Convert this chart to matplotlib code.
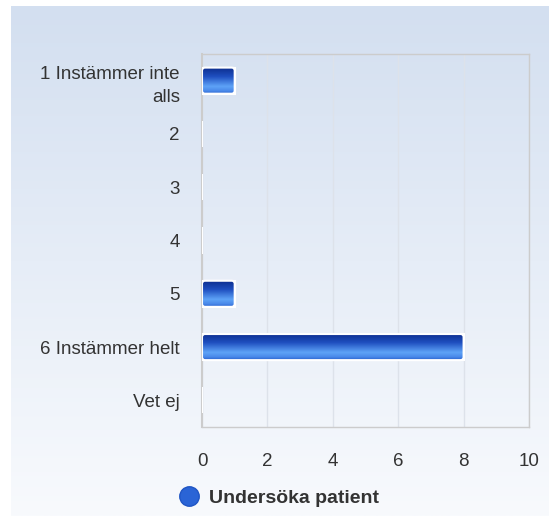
import numpy as np
import matplotlib
matplotlib.use("Agg")
import matplotlib.pyplot as plt
from matplotlib.colors import LinearSegmentedColormap
from matplotlib.patches import FancyBboxPatch
from matplotlib.lines import Line2D

plt.rcParams['font.family'] = ['Liberation Sans', 'DejaVu Sans']

categories = ["1 Instämmer inte\nalls", "2", "3", "4", "5", "6 Instämmer helt", "Vet ej"]
values = [1, 0, 0, 0, 1, 8, 0]
series_name = "Undersöka patient"
xticks = [0, 2, 4, 6, 8, 10]

W, H = 549, 516
fig = plt.figure(figsize=(W / 100, H / 100), dpi=100)

# background panel with vertical gradient
bg = fig.add_axes([11 / W, 0, 1 - 11 / W, 1 - 6 / H], zorder=-10)
bg_cmap = LinearSegmentedColormap.from_list("bg", ["#d3dff0", "#e6edf7", "#f8fafd"])
bg.imshow(np.linspace(0, 1, 256).reshape(-1, 1), aspect="auto", cmap=bg_cmap,
          extent=[0, 1, 0, 1], origin="upper")
bg.set_axis_off()

left, right, top, bottom = 202, 529, 54, 427
ax = fig.add_axes([left / W, 1 - bottom / H, (right - left) / W, (bottom - top) / H])
ax.set_facecolor("none")

y = np.arange(len(categories))
bar_h = 0.49
bars = ax.barh(y, values, height=bar_h, color="none", edgecolor="white",
               linewidth=1.5, zorder=3)

bar_cmap = LinearSegmentedColormap.from_list(
    "bar", [(0, "#0c2c8b"), (0.35, "#1f4fc0"), (0.72, "#5ea3f7"),
            (0.88, "#4a8aea"), (1.0, "#2a62cf")])
grad = np.linspace(0, 1, 128).reshape(-1, 1)
px_x = (right - left) / 10
px_y = (bottom - top) / len(categories)
for rect, v in zip(bars, values):
    if v <= 0:
        continue
    x0, y0 = rect.get_x(), rect.get_y()
    w, h = rect.get_width(), rect.get_height()
    clip = FancyBboxPatch((x0, y0), w, h,
                          boxstyle="round,pad=0,rounding_size=%f" % (3 / px_x),
                          mutation_aspect=px_x / px_y,
                          transform=ax.transData, facecolor="none",
                          edgecolor="white", linewidth=1.5, zorder=5)
    ax.add_patch(clip)
    im = ax.imshow(grad[::-1], aspect="auto", cmap=bar_cmap, origin="lower",
                   extent=[x0, x0 + w, y0 + h, y0], zorder=4)
    im.set_clip_path(clip)

ax.set_ylim(len(categories) - 0.5, -0.5)
ax.set_xlim(0, 10)
ax.set_aspect("auto")

ax.set_xticks(xticks)
ax.set_xticklabels([str(t) for t in xticks])
ax.set_yticks(y)
ax.set_yticklabels(categories, ha="right", linespacing=1.5)
ax.tick_params(axis="both", length=0, labelsize=13.5, labelcolor="#333333")
ax.tick_params(axis="x", pad=19)
ax.tick_params(axis="y", pad=16)
ax.grid(axis="x", color="#dde2ea", linewidth=1, zorder=0)
ax.grid(axis="y", visible=False)
for s in ax.spines.values():
    s.set_color("#cccccc")
    s.set_linewidth(1)
ax.spines["left"].set_linewidth(1.5)

handle = Line2D([], [], marker="o", linestyle="none", markersize=14,
                markerfacecolor="#2a64d6", markeredgecolor="#1f55c4")
leg = fig.legend([handle], [series_name], loc="center", bbox_to_anchor=(0.50, 18 / H),
                 frameon=False, handletextpad=0.05, prop={"weight": "bold", "size": 14})
for t in leg.get_texts():
    t.set_color("#333333")

fig.savefig("out.png", dpi=100)
